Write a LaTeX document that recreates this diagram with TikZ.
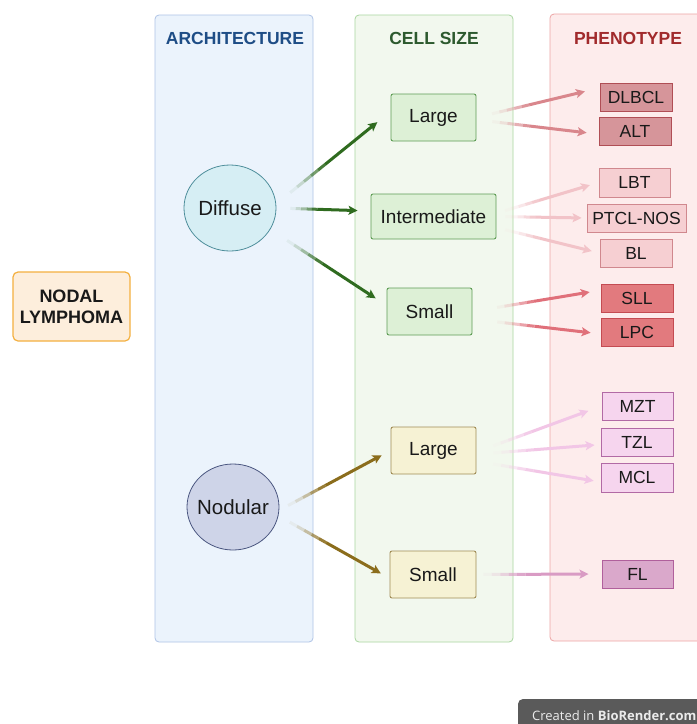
\documentclass[tikz,border=0pt]{standalone}
\usepackage{fontspec}
\setmainfont{Liberation Sans}
\newfontfamily\brfont{Open Sans}
\usetikzlibrary{calc,arrows.meta,shapes.geometric}

\definecolor{archfill}{HTML}{EBF3FC}
\definecolor{archline}{HTML}{AFC3E6}
\definecolor{archtext}{HTML}{1E4D86}
\definecolor{cellfill}{HTML}{F2F8EE}
\definecolor{cellline}{HTML}{A9D6A0}
\definecolor{celltext}{HTML}{2D5A2E}
\definecolor{phenfill}{HTML}{FDECEC}
\definecolor{phenline}{HTML}{EDA5A5}
\definecolor{phentext}{HTML}{A12A2C}
\definecolor{nodalfill}{HTML}{FDEEDC}
\definecolor{nodalline}{HTML}{F4B040}
\definecolor{diffill}{HTML}{D6EEF4}
\definecolor{difline}{HTML}{4E8E9B}
\definecolor{nodfill}{HTML}{CED4E8}
\definecolor{nodline}{HTML}{4A5680}
\definecolor{grfill}{HTML}{DDF0D6}
\definecolor{grline}{HTML}{5E9C55}
\definecolor{olfill}{HTML}{F6F2D4}
\definecolor{olline}{HTML}{A08C55}
\definecolor{redAfill}{HTML}{D6959A}
\definecolor{redAline}{HTML}{B04E55}
\definecolor{redBfill}{HTML}{F6CFD2}
\definecolor{redBline}{HTML}{D0888E}
\definecolor{redCfill}{HTML}{E27A7E}
\definecolor{redCline}{HTML}{C44B52}
\definecolor{pinkAfill}{HTML}{F6D5EE}
\definecolor{pinkAline}{HTML}{B26AA5}
\definecolor{pinkBfill}{HTML}{DAA8CB}
\definecolor{pinkBline}{HTML}{B0609C}
\definecolor{arrgreen}{HTML}{2F6B1F}
\definecolor{arrolive}{HTML}{8B6D1C}
\definecolor{arrredA}{HTML}{D9868C}
\definecolor{arrredB}{HTML}{F2C3C8}
\definecolor{arrredC}{HTML}{E0707A}
\definecolor{arrpinkA}{HTML}{F2C6E6}
\definecolor{arrpinkB}{HTML}{D99BC4}
\definecolor{badge}{HTML}{5A5A5A}

% arrow that fades in: colour, from, to, start gap, end gap
\newcommand{\fadearrow}[5]{%
  \coordinate (fa-s) at ($(#2)!#4pt!(#3)$);
  \coordinate (fa-e) at ($(#3)!#5pt!(#2)$);
  \foreach \fs/\fe/\fo in {0/.08/.06, .08/.16/.2, .16/.24/.4, .24/.32/.65, .32/.4/.88}
    \draw[line width=3pt, #1, draw opacity=\fo] ($(fa-s)!\fs!(fa-e)$) -- ($(fa-s)!\fe!(fa-e)$);
  \draw[line width=3pt, #1, -{Stealth[length=9pt,width=9pt,inset=2pt]}] ($(fa-s)!.4!(fa-e)$) -- (fa-e);
}

\begin{document}
\begin{tikzpicture}[x=1pt, y=-1pt,
    panel/.style={line width=0.8pt, rounded corners=4pt},
    title/.style={font=\fontsize{17.5}{19}\selectfont\bfseries},
    sizebox/.style={draw, line width=0.9pt, rounded corners=2pt, inner sep=0pt,
      minimum height=47, font=\fontsize{19}{21}\selectfont, text=black!90},
    phenbox/.style={draw, line width=0.9pt, inner sep=0pt, minimum width=72,
      minimum height=28, font=\fontsize{17.5}{19}\selectfont, text=black!90},
    archnode/.style={ellipse, draw, line width=0.8pt, minimum width=92, minimum height=86,
      inner sep=0pt, font=\fontsize{20.5}{22}\selectfont, text=black!90}]

    \clip (0,0) rectangle (697,724);
    \fill[white] (0,0) rectangle (697,724);

    % columns
    \draw[panel, fill=archfill, draw=archline] (155,15) rectangle (313,642);
    \draw[panel, fill=cellfill, draw=cellline] (355,15) rectangle (513,642);
    \draw[panel, fill=phenfill, draw=phenline] (550,14) rectangle (720,641);
    \node[title, text=archtext] (t-arch) at (235,38) {ARCHITECTURE};
    \node[title, text=celltext] (t-cell) at (434,38) {CELL SIZE};
    \node[title, text=phentext] (t-phen) at (628,38) {PHENOTYPE};

    \node[draw=nodalline, fill=nodalfill, line width=1.2pt, rounded corners=5pt,
      minimum width=117, minimum height=69, inner sep=0pt, align=center,
      font=\fontsize{18}{21}\selectfont\bfseries, text=black!90] (nodal) at (71.5,306.5) {NODAL\\LYMPHOMA};

    % architecture
    \node[archnode, fill=diffill, draw=difline] (dif) at (230,208) {\makebox[0pt]{Diffuse}};
    \node[archnode, fill=nodfill, draw=nodline] (nod) at (233,507) {\makebox[0pt]{Nodular}};

    % cell size
    \node[sizebox, fill=grfill, draw=grline, minimum width=85] (lgD) at (433.5,117.5) {Large};
    \node[sizebox, fill=grfill, draw=grline, minimum width=125, minimum height=45] (int) at (433.5,216.5) {Intermediate};
    \node[sizebox, fill=grfill, draw=grline, minimum width=85] (smD) at (429.5,311.5) {Small};
    \node[sizebox, fill=olfill, draw=olline, minimum width=85] (lgN) at (433.5,450.5) {Large};
    \node[sizebox, fill=olfill, draw=olline, minimum width=86] (smN) at (433,574.5) {Small};

    % phenotype
    \node[phenbox, fill=redAfill, draw=redAline] (dlbcl) at (636,97) {DLBCL};
    \node[phenbox, fill=redAfill, draw=redAline] (alt) at (635,131) {ALT};
    \node[phenbox, fill=redBfill, draw=redBline, minimum width=71, minimum height=29] (lbt) at (634.5,182.5) {LBT};
    \node[phenbox, fill=redBfill, draw=redBline, minimum width=99] (ptcl) at (636.5,218) {PTCL-NOS};
    \node[phenbox, fill=redBfill, draw=redBline] (bl) at (636,253) {BL};
    \node[phenbox, fill=redCfill, draw=redCline] (sll) at (637,298) {SLL};
    \node[phenbox, fill=redCfill, draw=redCline] (lpc) at (637,332) {LPC};
    \node[phenbox, fill=pinkAfill, draw=pinkAline, minimum width=71] (mzt) at (637.5,406) {MZT};
    \node[phenbox, fill=pinkAfill, draw=pinkAline] (tzl) at (637,442) {TZL};
    \node[phenbox, fill=pinkAfill, draw=pinkAline, minimum height=29] (mcl) at (637,477.5) {MCL};
    \node[phenbox, fill=pinkBfill, draw=pinkBline, minimum width=71] (fl) at (637.5,574) {FL};

    % architecture -> cell size
    \fadearrow{arrgreen}{dif.5}{lgD.172}{18}{17}
    \fadearrow{arrgreen}{dif.east}{int.175}{14}{13}
    \fadearrow{arrgreen}{dif.332}{smD.172}{20}{13}
    \fadearrow{arrolive}{nod.356}{lgN.west}{10}{10}
    \fadearrow{arrolive}{nod.349}{smN.185}{13}{10}

    % cell size -> phenotype
    \fadearrow{arrredA}{lgD.east}{dlbcl.166}{16}{15}
    \fadearrow{arrredA}{lgD.357}{alt.185}{16}{12}
    \fadearrow{arrredB}{int.3}{lbt.west}{9}{9}
    \fadearrow{arrredB}{int.east}{ptcl.west}{9}{5}
    \fadearrow{arrredB}{int.350}{bl.west}{9}{8}
    \fadearrow{arrredC}{smD.east}{sll.168}{25}{11}
    \fadearrow{arrredC}{smD.350}{lpc.183}{25}{10}
    \fadearrow{arrpinkA}{lgN.358}{mzt.west}{18}{14}
    \fadearrow{arrpinkA}{lgN.355}{tzl.184}{17}{6}
    \fadearrow{arrpinkA}{lgN.346}{mcl.187}{17}{7}
    \fadearrow{arrpinkB}{smN.east}{fl.west}{7}{13}

    % badge
    \fill[badge, rounded corners=5pt] (518,699) rectangle (730,740);
    \node[anchor=base west, inner sep=0pt, text=white!92!black,
      font=\brfont\fontsize{13}{15}\selectfont] (badge) at (532,720) {Created in \textbf{BioRender.com}};
\end{tikzpicture}
\end{document}
